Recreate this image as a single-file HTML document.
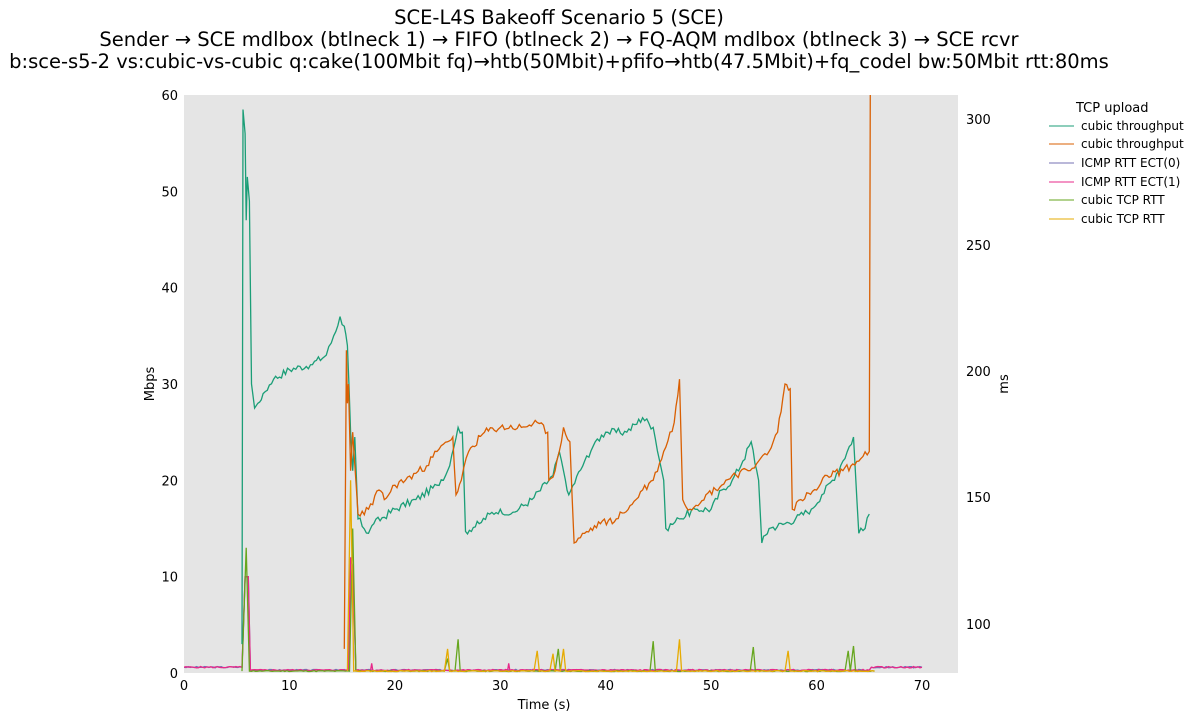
<!DOCTYPE html>
<html><head><meta charset="utf-8"><style>
body{margin:0;background:#fff;font-family:"Liberation Sans","DejaVu Sans",sans-serif;}
svg text{font-family:"DejaVu Sans","Liberation Sans",sans-serif;}
</style></head><body>
<svg id="s" width="1195" height="721" xmlns="http://www.w3.org/2000/svg">
<defs><clipPath id="cp"><rect x="184" y="95" width="774" height="580"/></clipPath></defs>
<rect x="184" y="95" width="774" height="578" fill="#e5e5e5"/>
<g font-size="19.5" text-anchor="middle" fill="#000">
<text x="559" y="24">SCE-L4S Bakeoff Scenario 5 (SCE)</text>
<text x="559" y="46">Sender → SCE mdlbox (btlneck 1) → FIFO (btlneck 2) → FQ-AQM mdlbox (btlneck 3) → SCE rcvr</text>
<text x="559" y="68">b:sce-s5-2 vs:cubic-vs-cubic q:cake(100Mbit fq)→htb(50Mbit)+pfifo→htb(47.5Mbit)+fq_codel bw:50Mbit rtt:80ms</text>
</g>
<g id="ax" font-size="13" fill="#000"></g>
<text x="154" y="384" font-size="13" text-anchor="middle" transform="rotate(-90 154 384)">Mbps</text>
<text x="1008" y="384" font-size="13" text-anchor="middle" transform="rotate(-90 1008 384)">ms</text>
<text x="544" y="709" font-size="13" text-anchor="middle">Time (s)</text>
<g id="lines" fill="none" stroke-width="1.3" clip-path="url(#cp)"></g>
<g font-size="12" fill="#000">
<text x="1076" y="112" font-size="13">TCP upload</text>
<line x1="1049" x2="1074" y1="126" y2="126" stroke="#1b9e77"/><text x="1081" y="130">cubic throughput</text>
<line x1="1049" x2="1074" y1="144" y2="144" stroke="#d95f02"/><text x="1081" y="148">cubic throughput</text>
<line x1="1049" x2="1074" y1="163" y2="163" stroke="#7570b3"/><text x="1081" y="167">ICMP RTT ECT(0)</text>
<line x1="1049" x2="1074" y1="182" y2="182" stroke="#e7298a"/><text x="1081" y="186">ICMP RTT ECT(1)</text>
<line x1="1049" x2="1074" y1="200" y2="200" stroke="#66a61e"/><text x="1081" y="204">cubic TCP RTT</text>
<line x1="1049" x2="1074" y1="219" y2="219" stroke="#e6ab02"/><text x="1081" y="223">cubic TCP RTT</text>
</g>
</svg>
<script>
var X=t=>184+t*10.543, Y=v=>673-v*9.633;
var ax=document.getElementById('ax'),h='';
for(var t=0;t<=70;t+=10)h+='<text x="'+X(t)+'" y="690" text-anchor="middle">'+t+'</text>';
for(var v=0;v<=60;v+=10)h+='<text x="178" y="'+(Y(v)+5)+'" text-anchor="end">'+v+'</text>';
[[100,624],[150,497],[200,371],[250,245],[300,119]].forEach(a=>h+='<text x="966" y="'+(a[1]+5)+'">'+a[0]+'</text>');
ax.innerHTML=h;
function jit(pts,amp,seed){var out=[],s=seed;for(var i=0;i<pts.length-1;i++){var a=pts[i],b=pts[i+1];var n=Math.max(1,Math.round((b[0]-a[0])/0.2));for(var k=0;k<n;k++){s=(s*9301+49297)%233280;var f=k/n;out.push([a[0]+(b[0]-a[0])*f,a[1]+(b[1]-a[1])*f+(k?(s/233280-0.5)*amp:0)]);}}out.push(pts[pts.length-1]);return out;}
function pl(pts,c,amp,seed){return '<polyline stroke="'+c+'" points="'+jit(pts,amp||0,seed||7).map(p=>X(p[0]).toFixed(1)+','+Y(p[1]).toFixed(1)).join(' ')+'"/>';}
var g=[[5.5,3],[5.6,58.5],[5.8,56],[5.9,47],[6,51.5],[6.2,49],[6.4,30],[6.7,27.5],[7,28],[7.5,29],[8.5,30.5],[10,31.5],[12,32],[13.5,33],[14.2,35],[14.8,37],[15.2,36],[15.5,34],[15.8,25],[16,21],[16.2,24.5],[16.5,16],[17.5,14.5],[18,15.5],[20,17],[22,18],[24,19.5],[25,21],[26,25.5],[26.4,25],[26.7,14.7],[28,15.5],[29,16.5],[30,17],[31,16.5],[33,18],[35,20.5],[35.6,23],[36,21],[36.5,18.5],[38,22],[39,24],[40,25],[42,25],[43.5,26.5],[44.5,25.5],[45.5,20],[45.7,15],[47,16],[48.5,17],[50,17],[51,19],[52,20],[53,22],[53.8,24],[54.5,20],[54.8,13.5],[55.5,15],[57,15.5],[58,16],[59.5,17],[60.5,18.5],[61.5,20],[62.5,22],[63.5,24.5],[64,14.5],[64.6,15],[65,16.5]];
var o=[[15.2,2.5],[15.4,33.5],[15.5,28],[15.6,30],[15.8,21],[16,25],[16.5,16.5],[17.5,17],[18.5,19],[19,18],[20,19.5],[21,20],[23,21.5],[24,23],[25,24],[25.5,24.5],[25.8,18.5],[26.3,20],[27,23],[28.5,25],[30,25.5],[32,25.5],[33.5,26],[34.5,25],[34.6,20],[35.2,21],[35.6,23],[36,25.5],[36.6,24],[37,13.5],[38,14.5],[39.5,15.5],[41,16],[42.5,17.5],[43.5,19],[44.5,20],[45.5,23],[46.5,26],[47,30.5],[47.3,18],[48,17],[49.5,18.5],[51,19.5],[52,20.5],[53.5,21],[54.5,22],[55.5,23],[56.3,25],[56.8,28.5],[57,30],[57.5,29.5],[57.7,17],[58.5,18],[60,19],[61,20.5],[62.5,21],[64,22],[65,23],[65.1,61]];
var ip=[[0,0.6],[5.5,0.6],[5.8,10],[6.1,10],[6.3,0.3],[15.6,0.3],[15.8,12],[16,11],[16.3,0.3],[65,0.3],[65.2,0.6],[70,0.6]];
var ik=[[0,0.6],[5.5,0.6],[5.8,10],[6.1,10],[6.3,0.3],[15.6,0.3],[15.8,12],[16,11],[16.3,0.3],[17.7,0.3],[17.8,1],[17.9,0.3],[30.7,0.3],[30.8,1],[30.9,0.3],[65,0.3],[65.2,0.6],[70,0.6]];
function spikes(base,arr,end){var p=[[arr[0][0]-0.3,base]];arr.forEach(a=>{p.push([a[0]-0.3,base]);p.push([a[0],a[1]]);p.push([a[0]+0.2,base]);});p.push([end,base]);return p;}
var gr=[[5.5,0.2],[5.9,13],[6.2,0.2],[15.7,0.2],[16,15],[16.3,0.2]].concat(spikes(0.2,[[25,1.5],[26,3.5],[35.5,2.5],[44.5,3.3],[54,2.7],[63,2.3],[63.5,2.8]],65.5).slice(1));
var yl=[[15.5,0.2],[15.8,20],[16.1,0.2]].concat(spikes(0.2,[[25,2.5],[33.5,2.3],[35,2],[36,2.5],[47,3.5],[57.3,2.3]],65.5).slice(1));
document.getElementById('lines').innerHTML=pl(ip,'#7570b3',0.15,3)+pl(ik,'#e7298a',0.15,5)+pl(gr,'#66a61e',0.1,11)+pl(yl,'#e6ab02',0.1,13)+pl(g,'#1b9e77',0.8,17)+pl(o,'#d95f02',0.8,23);
</script>
</body></html>
